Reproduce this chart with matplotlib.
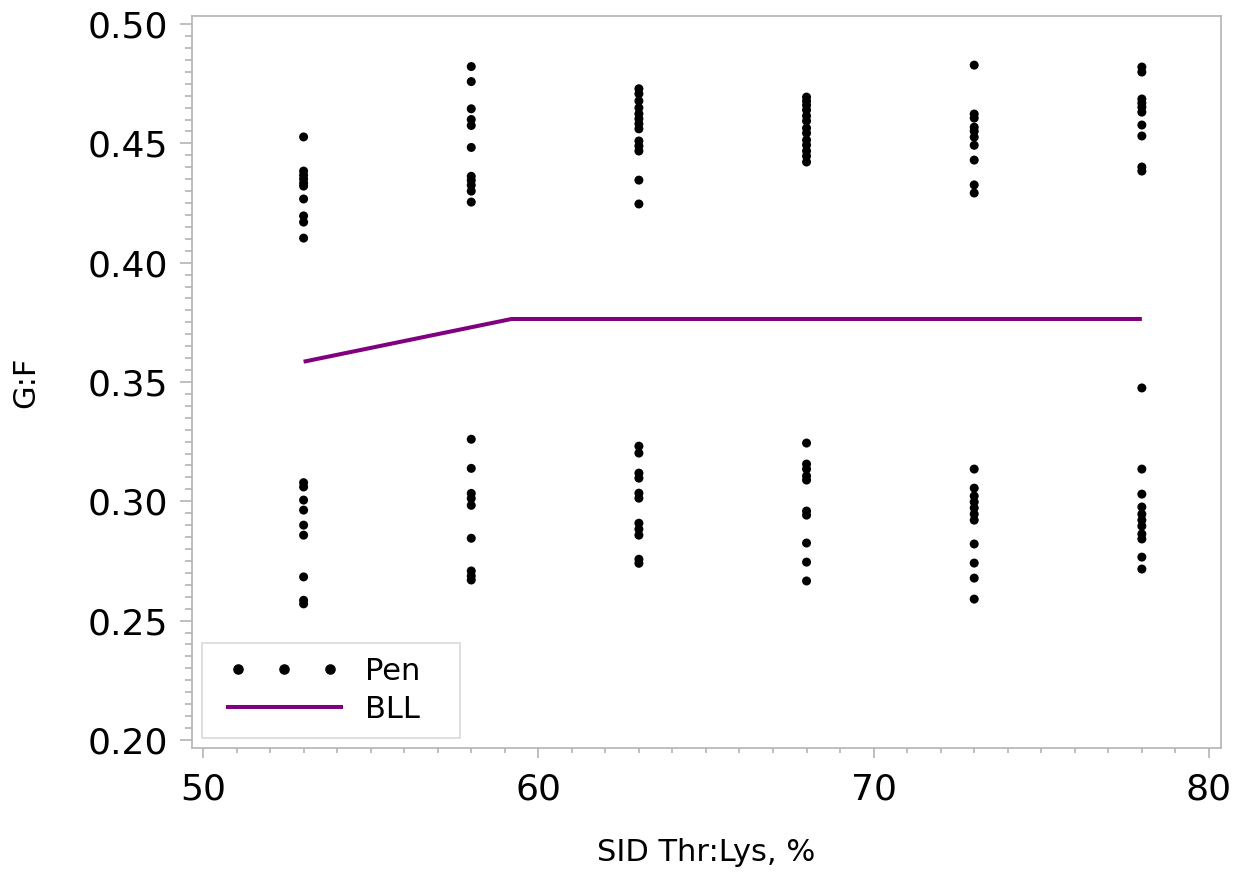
import matplotlib
matplotlib.use("Agg")
import matplotlib.pyplot as plt
from matplotlib.ticker import MultipleLocator
from matplotlib.lines import Line2D
from matplotlib.legend_handler import HandlerLine2D

# Data
thr_lys = [53, 58, 63, 68, 73, 78]
pen_gf = {
    53: [0.4527, 0.4384, 0.4367, 0.4351, 0.4334, 0.4321, 0.4267, 0.4196, 0.4170, 0.4103,
         0.3078, 0.3060, 0.3005, 0.2963, 0.2900, 0.2858, 0.2683, 0.2585, 0.2570],
    58: [0.4822, 0.4759, 0.4645, 0.4600, 0.4575, 0.4483, 0.4362, 0.4345, 0.4325, 0.4300, 0.4254,
         0.3260, 0.3138, 0.3033, 0.3012, 0.2983, 0.2845, 0.2708, 0.2687, 0.2670],
    63: [0.4729, 0.4708, 0.4678, 0.4649, 0.4624, 0.4603, 0.4582, 0.4561, 0.4510, 0.4489, 0.4468,
         0.4346, 0.4246,
         0.3231, 0.3202, 0.3118, 0.3097, 0.3034, 0.3013, 0.2908, 0.2883, 0.2858, 0.2757, 0.2740],
    68: [0.4694, 0.4677, 0.4660, 0.4640, 0.4615, 0.4594, 0.4564, 0.4543, 0.4514, 0.4493, 0.4468,
         0.4447, 0.4422,
         0.3244, 0.3156, 0.3135, 0.3106, 0.3089, 0.2959, 0.2942, 0.2825, 0.2745, 0.2666],
    73: [0.4828, 0.4623, 0.4606, 0.4568, 0.4551, 0.4526, 0.4492, 0.4430, 0.4326, 0.4292,
         0.3135, 0.3055, 0.3022, 0.2997, 0.2972, 0.2946, 0.2921, 0.2821, 0.2741, 0.2678, 0.2590],
    78: [0.4820, 0.4799, 0.4686, 0.4669, 0.4652, 0.4631, 0.4577, 0.4531, 0.4401, 0.4384,
         0.3475, 0.3135, 0.3030, 0.2976, 0.2946, 0.2921, 0.2896, 0.2863, 0.2842, 0.2766, 0.2716],
}
bll_x = [53, 59.2, 78]
bll_y = [0.3585, 0.3764, 0.3764]

x_label = "SID Thr:Lys, %"
y_label = "G:F"
x_ticks = [50, 60, 70, 80]
y_ticks = [0.20, 0.25, 0.30, 0.35, 0.40, 0.45, 0.50]
legend_labels = ["Pen", "BLL"]

fig = plt.figure(figsize=(12.44, 8.73), dpi=100)
ax = fig.add_axes([0.1543, 0.1432, 0.8272, 0.8385])

xs, ys = [], []
for x in thr_lys:
    for v in pen_gf[x]:
        xs.append(x)
        ys.append(v)
ax.scatter(xs, ys, s=42, color="black", edgecolors="none", zorder=3)
ax.plot(bll_x, bll_y, color="#800080", lw=2.9, solid_capstyle="butt", zorder=2)

ax.set_xlim(49.67, 80.36)
ax.set_ylim(0.1966, 0.5034)
ax.set_xticks(x_ticks)
ax.set_xticklabels([str(t) for t in x_ticks])
ax.set_yticks(y_ticks)
ax.set_yticklabels([f"{t:.2f}" for t in y_ticks])
ax.xaxis.set_minor_locator(MultipleLocator(1))
ax.yaxis.set_minor_locator(MultipleLocator(0.005))

grey = "#b4b4b4"
for sp in ax.spines.values():
    sp.set_color(grey)
    sp.set_linewidth(1.2)
ax.tick_params(axis="both", which="both", direction="out", color=grey, width=1.2)
ax.tick_params(axis="y", which="major", length=8.5, labelsize=26, pad=9)
ax.tick_params(axis="y", which="minor", length=4.8)
ax.tick_params(axis="x", which="major", length=7, labelsize=26, pad=11)
ax.tick_params(axis="x", which="minor", length=3.5)

ax.set_xlabel(x_label, fontsize=22, labelpad=22)
ax.set_ylabel(y_label, fontsize=22, labelpad=34)


class ShiftedHandler(HandlerLine2D):
    def __init__(self, shift=0.0, **kw):
        super().__init__(**kw)
        self.shift = shift

    def create_artists(self, legend, orig_handle, xdescent, ydescent, width, height,
                       fontsize, trans):
        return super().create_artists(legend, orig_handle, xdescent - self.shift * fontsize,
                                      ydescent, width, height, fontsize, trans)


h_pen = Line2D([], [], linestyle="none", marker="o", markersize=6.6, color="black")
h_bll = Line2D([], [], color="#800080", lw=2.9, solid_capstyle="butt")
hmap = {h_pen: ShiftedHandler(shift=0.33, marker_pad=0.4, numpoints=3),
        h_bll: ShiftedHandler(shift=0.33)}
leg = ax.legend([h_pen, h_bll], legend_labels, loc="lower left", fontsize=22,
                handler_map=hmap, handlelength=3.82, frameon=True, fancybox=False,
                borderpad=0.45, labelspacing=0.3, handletextpad=1.05,
                borderaxespad=0.33, mode="expand",
                bbox_to_anchor=(0.0, 0.0, (470 - 192) / 1029, 0.2))
leg.get_frame().set_edgecolor("#d0d0d0")
leg.get_frame().set_linewidth(1.2)

fig.savefig("out.png", dpi=100)
